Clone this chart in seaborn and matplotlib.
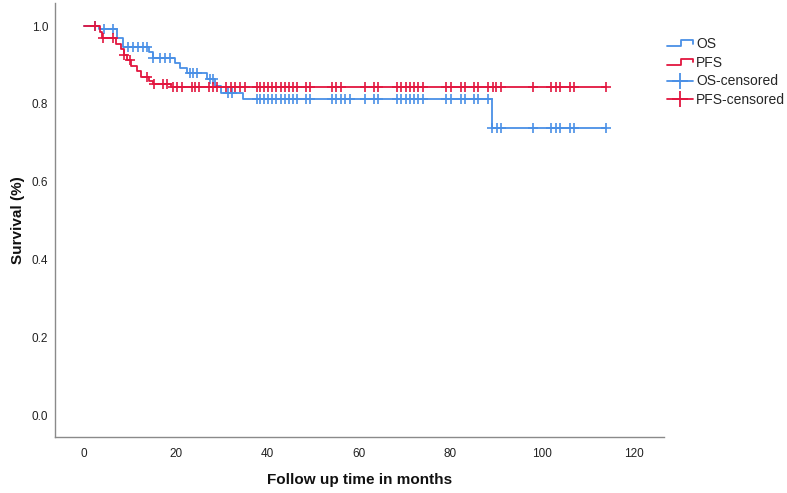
import numpy as np
import pandas as pd
import matplotlib
matplotlib.use("Agg")
import matplotlib.pyplot as plt
import seaborn as sns
from matplotlib.lines import Line2D
from matplotlib.legend_handler import HandlerBase

# ---------------- data ----------------
series_names = ["OS", "PFS"]

os_step_times = [3.3, 7.2, 8.6, 14.2, 15.0, 19.8, 21.0, 22.5, 26.8, 28.6, 30.0, 34.8, 89.0]
os_step_surv = [0.992, 0.969, 0.945, 0.933, 0.918, 0.905, 0.893, 0.880, 0.863, 0.846, 0.828, 0.812, 0.738]
os_censor_times = [2.3, 4.3, 6.4, 9.7, 10.8, 11.8, 12.9, 13.8, 15.1, 16.6, 17.7, 18.8,
                   23.1, 23.9, 24.6, 27.5, 28.2, 31.5, 32.2,
                   37.7, 38.4, 39.3, 40.2, 41.1, 42.0, 42.9, 43.9, 44.8, 45.7, 46.5,
                   48.4, 49.3, 54.2, 55.1, 56.0, 56.9, 58.0, 61.3, 63.3, 64.2,
                   68.4, 69.3, 70.3, 71.1, 72.0, 72.9, 74.0, 79.1, 80.0, 82.2, 83.1,
                   85.1, 86.0, 88.2, 89.1, 90.1, 91.0, 98.0, 102.0, 103.0, 103.9,
                   106.0, 106.9, 114.0]

pfs_step_times = [3.5, 4.0, 7.0, 8.0, 8.7, 9.4, 10.3, 11.5, 12.5, 14.2, 15.0, 19.0]
pfs_step_surv = [0.985, 0.970, 0.955, 0.940, 0.926, 0.912, 0.898, 0.884, 0.870, 0.858, 0.850, 0.843]
pfs_censor_times = [2.3, 4.2, 6.4, 8.8, 10.0, 13.7, 15.3, 17.3, 18.2,
                    19.5, 20.4, 21.3, 23.5, 24.2, 25.2, 27.3, 28.2, 29.1,
                    31.1, 32.0, 32.9, 34.0, 35.1,
                    37.7, 38.4, 39.3, 40.2, 41.1, 42.0, 42.9, 43.9, 44.8, 45.7, 46.5,
                    48.4, 49.3, 54.2, 55.1, 56.0, 61.3, 63.3, 64.2,
                    68.4, 69.3, 70.3, 71.1, 72.0, 72.9, 74.0, 79.1, 80.0, 82.2, 83.1,
                    85.1, 86.0, 88.2, 89.2, 90.0, 91.0, 98.0, 102.0, 103.0, 103.9,
                    106.0, 106.9, 114.0]

x_ticks = [0, 20, 40, 60, 80, 100, 120]
y_ticks = [0.0, 0.2, 0.4, 0.6, 0.8, 1.0]

colors = {"OS": "#4a90e6", "PFS": "#e2163f"}


def level_at(t, times, surv):
    idx = np.searchsorted(times, t, side="right")
    vals = np.concatenate([[1.0], surv])
    return vals[idx]


series = {
    "OS": (os_step_times, os_step_surv, os_censor_times),
    "PFS": (pfs_step_times, pfs_step_surv, pfs_censor_times),
}

curve_rows = []
cens_rows = []
for name in series_names:
    st, ss, ct = series[name]
    end_t = max(ct)
    times = [0.0] + list(st) + [end_t]
    survs = [1.0] + list(ss) + [ss[-1]]
    for t, s in zip(times, survs):
        curve_rows.append({"time": t, "surv": s, "series": name})
    cy = level_at(np.array(ct), np.array(st), np.array(ss))
    for t, s in zip(ct, cy):
        cens_rows.append({"time": t, "surv": s, "series": name})

curve_df = pd.DataFrame(curve_rows)
cens_df = pd.DataFrame(cens_rows)

# ---------------- plotting ----------------
sns.set_style("white")
plt.rcParams["font.family"] = ["Liberation Sans", "DejaVu Sans"]

W, H = 787, 493
fig = plt.figure(figsize=(W / 100, H / 100), dpi=100)
ax = fig.add_axes([55 / W, (H - 437) / H, (664 - 55) / W, (437 - 3) / H])

for name in series_names:
    sub = curve_df[curve_df.series == name]
    sns.lineplot(data=sub, x="time", y="surv", color=colors[name], lw=1.3,
                 drawstyle="steps-post", estimator=None, sort=False,
                 legend=False, ax=ax, zorder=2 if name == "OS" else 3)

for name in series_names:
    sub = cens_df[cens_df.series == name]
    ax.plot(sub["time"], sub["surv"], linestyle="none", marker="+",
            markersize=6.8, markeredgewidth=1.2, color=colors[name],
            zorder=2 if name == "OS" else 3)

ax.set_xlim(-6.33, 126.6)
ax.set_ylim(-0.054, 1.059)
ax.set_xticks(x_ticks)
ax.set_xticklabels([str(v) for v in x_ticks])
ax.set_yticks(y_ticks)
ax.set_yticklabels([f"{v:.1f}" for v in y_ticks])
ax.tick_params(axis="both", length=0, labelsize=8.5, colors="#222222")
ax.tick_params(axis="x", pad=8)
ax.tick_params(axis="y", pad=5)

for side in ["top", "right"]:
    ax.spines[side].set_visible(False)
for side in ["left", "bottom"]:
    ax.spines[side].set_color("#8a8a8a")
    ax.spines[side].set_linewidth(1.0)

ax.set_xlabel("Follow up time in months", fontsize=11, fontweight="bold",
              color="#111111", labelpad=9)
ax.set_ylabel("Survival (%)", fontsize=11, fontweight="bold",
              color="#111111", labelpad=5)


class StepHandler(HandlerBase):
    def create_artists(self, legend, orig_handle, xdescent, ydescent,
                       width, height, fontsize, trans):
        x0, y0 = -xdescent, -ydescent
        lo, hi = y0 + height * 0.2, y0 + height * 0.8
        xs = [x0, x0 + width * 0.52, x0 + width * 0.52, x0 + width, x0 + width]
        ys = [lo, lo, hi, hi, y0 + height * 0.45]
        ln = Line2D(xs, ys, color=orig_handle.get_color(),
                    lw=orig_handle.get_linewidth())
        ln.set_transform(trans)
        return [ln]


h_os = Line2D([], [], color=colors["OS"], lw=1.3)
h_pfs = Line2D([], [], color=colors["PFS"], lw=1.3)
h_osc = Line2D([], [], color=colors["OS"], lw=1.3, marker="+",
               markersize=11, markeredgewidth=1.3)
h_pfsc = Line2D([], [], color=colors["PFS"], lw=1.3, marker="+",
                markersize=11, markeredgewidth=1.3)

fig.legend([h_os, h_pfs, h_osc, h_pfsc],
           ["OS", "PFS", "OS-censored", "PFS-censored"],
           handler_map={h_os: StepHandler(), h_pfs: StepHandler()},
           loc="upper left", bbox_to_anchor=(667 / W, (H - 37) / H),
           frameon=False, fontsize=10, handlelength=1.9, handletextpad=0.2,
           labelspacing=0.34, borderpad=0, borderaxespad=0)

fig.savefig("out.png", dpi=100)
